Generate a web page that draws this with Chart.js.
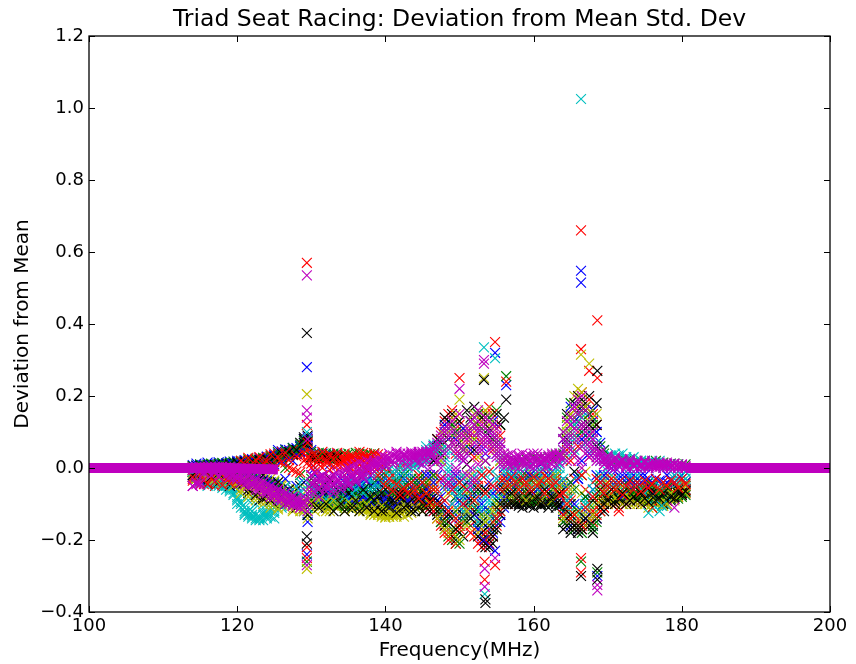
<!DOCTYPE html>
<html><head><meta charset="utf-8">
<script src="https://cdn.jsdelivr.net/npm/chart.js@4/dist/chart.umd.min.js"></script>
<style>html,body{margin:0;padding:0;background:#fff}</style>
</head><body>
<canvas id="c" width="856" height="664"></canvas>
<script>
const xTicks = [100,120,140,160,180,200];
const yTicks = [-0.4,-0.2,0.0,0.2,0.4,0.6,0.8,1.0,1.2];

const freq = [
114,114.5,115,115.5,116,116.5,117,117.5,118,118.5,
119,119.5,120,120.5,121,121.5,122,122.5,123,123.5,
124,124.5,125,125.5,126,126.5,127,127.5,128,128.5,
129,129.5,130,130.5,131,131.5,132,132.5,133,133.5,
134,134.5,135,135.5,136,136.5,137,137.5,138,138.5,
139,139.5,140,140.5,141,141.5,142,142.5,143,143.5,
144,144.5,145,145.5,146,146.5,147,147.5,148,148.5,
149,149.5,150,150.5,151,151.5,152,152.5,153,153.5,
154,154.5,155,155.5,156,156.5,157,157.5,158,158.5,
159,159.5,160,160.5,161,161.5,162,162.5,163,163.5,
164,164.5,165,165.5,166,166.5,167,167.5,168,168.5,
169,169.5,170,170.5,171,171.5,172,172.5,173,173.5,
174,174.5,175,175.5,176,176.5,177,177.5,178,178.5,
179,179.5,180,180.5];

const blue1 = [
0.008,0.006,0.009,0.007,0.010,0.008,0.011,0.009,0.012,0.010,
0.012,0.014,0.013,0.016,0.018,0.017,0.020,0.022,0.021,0.024,
0.026,0.028,0.034,0.040,0.046,0.044,0.050,0.048,0.055,0.060,
0.070,0.078,0.050,0.042,0.038,0.040,0.036,0.039,0.035,0.038,
-0.090,-0.095,-0.088,-0.098,-0.092,-0.085,-0.096,-0.090,-0.082,-0.075,
-0.07,-0.08,-0.095,-0.10,-0.105,-0.098,-0.09,-0.085,-0.08,-0.07,
-0.065,-0.06,-0.07,-0.055,-0.06,-0.08,-0.10,-0.12,-0.14,-0.16,
-0.04,-0.06,-0.03,-0.07,-0.05,-0.12,-0.15,-0.17,-0.19,-0.20,
-0.17,-0.14,-0.12,-0.09,-0.11,-0.05,-0.04,-0.06,-0.05,-0.04,
-0.03,-0.04,-0.03,-0.05,-0.04,-0.03,-0.05,-0.04,-0.06,-0.05,
-0.06,-0.08,0.12,0.14,0.15,0.16,0.11,0.09,0.13,0.10,
0.07,0.05,0.02,0.01,-0.01,-0.02,-0.03,-0.02,-0.04,-0.03,
-0.03,-0.04,-0.05,-0.04,-0.05,-0.06,-0.05,-0.04,-0.06,-0.05,
-0.05,-0.06,-0.05,-0.04];
const blue2 = [
-0.005,-0.008,-0.006,-0.010,-0.007,-0.009,-0.012,-0.010,-0.013,-0.011,
-0.015,-0.013,-0.018,-0.016,-0.020,-0.022,-0.025,-0.028,-0.030,-0.033,
-0.035,-0.040,-0.045,-0.05,-0.06,-0.065,-0.07,-0.075,-0.08,-0.085,
-0.12,-0.15,-0.09,-0.085,-0.09,-0.095,-0.10,-0.095,-0.10,-0.098,
-0.06,-0.055,-0.065,-0.06,-0.07,-0.075,-0.08,-0.085,-0.09,-0.095,
-0.10,-0.095,-0.105,-0.11,-0.10,-0.09,-0.085,-0.09,-0.08,-0.085,
-0.09,-0.095,-0.10,-0.09,-0.11,-0.12,-0.02,-0.03,-0.05,-0.04,
-0.06,-0.08,-0.10,-0.11,-0.09,-0.07,-0.05,-0.08,-0.12,-0.16,
-0.21,-0.18,-0.15,-0.13,-0.10,-0.07,-0.06,-0.07,-0.08,-0.06,
-0.07,-0.06,-0.08,-0.07,-0.06,-0.08,-0.07,-0.09,-0.08,-0.10,
-0.12,-0.14,-0.16,-0.15,-0.17,-0.13,-0.12,-0.15,-0.16,-0.14,
-0.10,-0.08,-0.07,-0.06,-0.07,-0.05,-0.06,-0.05,-0.07,-0.06,
-0.06,-0.07,-0.06,-0.05,-0.07,-0.06,-0.07,-0.08,-0.06,-0.07,
-0.06,-0.07,-0.05,-0.06];
const blue3 = [
-0.02,0.005,-0.035,-0.01,0.0,-0.04,-0.015,0.008,-0.03,-0.005,
-0.02,0.01,-0.05,-0.03,0.015,-0.06,-0.01,-0.08,0.0,-0.04,
0.03,-0.06,0.01,-0.09,0.04,-0.03,-0.1,0.02,-0.05,0.045,
-0.04,0.06,-0.08,0.0,-0.1,-0.02,-0.07,0.01,-0.05,-0.09,
-0.03,-0.07,0.0,-0.09,-0.05,-0.1,-0.02,-0.06,-0.08,-0.04,
-0.06,-0.01,-0.09,-0.04,-0.11,-0.07,-0.02,-0.1,-0.05,-0.08,
-0.03,-0.08,0.01,-0.06,-0.02,0.04,-0.09,0.07,-0.13,0.1,
-0.05,0.08,-0.14,0.02,-0.09,0.13,-0.03,-0.17,0.06,-0.12,
0.1,-0.07,0.04,-0.15,0.0,-0.06,-0.02,-0.08,-0.04,-0.07,
-0.02,-0.08,-0.04,0.0,-0.07,-0.03,-0.09,-0.01,-0.06,-0.04,
-0.1,0.06,-0.04,0.13,-0.03,0.02,0.09,-0.07,0.16,-0.02,
0.03,-0.06,-0.02,-0.08,0.0,-0.05,-0.07,-0.03,-0.06,-0.02,
-0.04,-0.07,-0.02,-0.06,-0.08,-0.03,-0.05,-0.07,-0.02,-0.06,
-0.05,-0.03,-0.06,-0.04];
const blue4 = [
0.0,0.012,0.003,0.0,0.015,0.002,0.0,0.016,0.004,0.0,
0.018,0.004,0.02,0.0,0.022,0.006,0.025,0.002,0.028,0.01,
0.032,0.015,0.036,0.05,0.02,0.052,0.03,0.056,0.04,0.062,
0.08,0.085,-0.02,-0.06,-0.03,-0.085,-0.045,-0.07,-0.02,-0.06,
-0.07,-0.04,-0.085,-0.03,-0.1,-0.045,-0.08,-0.035,-0.095,-0.06,
-0.04,-0.09,-0.03,-0.075,-0.05,-0.1,-0.06,-0.03,-0.09,-0.05,
-0.1,-0.04,-0.085,-0.02,-0.07,-0.04,0.06,-0.08,0.12,-0.11,
0.09,-0.02,-0.09,0.11,-0.04,0.05,-0.13,0.1,-0.1,0.04,
-0.04,0.13,-0.06,0.07,-0.08,-0.03,-0.06,-0.02,-0.07,-0.03,
-0.06,-0.02,-0.07,-0.03,-0.08,-0.05,-0.02,-0.07,-0.04,-0.08,
0.08,-0.05,0.17,-0.1,-0.03,0.08,-0.14,0.04,-0.06,0.1,
-0.04,-0.02,-0.06,0.0,-0.05,-0.03,-0.08,-0.04,-0.02,-0.05,
-0.05,-0.02,-0.07,-0.03,-0.04,-0.075,-0.035,-0.05,-0.04,-0.03,
-0.04,-0.07,-0.03,-0.05];
const green1 = [
0.005,0.007,0.006,0.009,0.008,0.010,0.009,0.012,0.011,0.013,
0.014,0.013,0.016,0.015,0.017,0.019,0.018,0.021,0.020,0.023,
0.025,0.027,0.030,0.033,0.036,0.038,0.042,0.045,0.050,0.058,
0.065,0.072,0.045,0.040,0.042,0.038,0.041,0.037,0.040,0.036,
0.038,0.035,0.040,0.037,0.042,0.039,0.036,0.040,0.038,0.041,
-0.05,-0.07,-0.09,-0.08,-0.10,-0.09,-0.08,-0.07,-0.09,-0.06,
-0.07,-0.05,-0.08,-0.06,-0.09,-0.05,0.02,0.06,0.10,0.12,
-0.17,-0.19,-0.12,-0.08,-0.10,-0.06,0.08,0.12,0.15,0.14,
0.10,0.08,0.16,0.12,0.03,0.02,0.01,0.02,0.015,0.02,
0.025,0.02,0.03,0.025,0.03,0.02,0.03,0.025,0.035,0.04,
0.10,0.14,0.18,0.16,0.13,0.15,0.12,0.10,0.14,0.12,
0.06,0.04,0.03,0.02,0.025,0.02,0.015,0.02,0.025,0.015,
0.02,0.015,0.02,0.01,0.015,0.02,0.01,0.015,0.01,0.012,
0.012,0.01,0.008,0.01];
const green2 = [
-0.01,-0.012,-0.015,-0.013,-0.016,-0.018,-0.014,-0.017,-0.02,-0.018,
-0.02,-0.022,-0.025,-0.023,-0.028,-0.03,-0.032,-0.035,-0.04,-0.045,
-0.05,-0.055,-0.06,-0.07,-0.075,-0.08,-0.085,-0.09,-0.095,-0.10,
-0.11,-0.13,-0.10,-0.095,-0.09,-0.10,-0.095,-0.105,-0.10,-0.11,
-0.10,-0.105,-0.11,-0.10,-0.095,-0.105,-0.10,-0.09,-0.095,-0.10,
-0.09,-0.10,-0.11,-0.105,-0.09,-0.10,-0.11,-0.095,-0.10,-0.09,
-0.095,-0.10,-0.105,-0.09,-0.10,-0.11,-0.12,-0.15,-0.17,-0.19,
-0.20,-0.21,-0.18,-0.14,-0.12,-0.10,-0.13,-0.16,-0.18,-0.20,
-0.19,-0.17,-0.15,-0.12,-0.10,-0.08,-0.09,-0.10,-0.09,-0.085,
-0.09,-0.095,-0.085,-0.09,-0.10,-0.09,-0.095,-0.085,-0.09,-0.10,
-0.11,-0.13,-0.15,-0.17,-0.16,-0.18,-0.14,-0.16,-0.17,-0.15,
-0.12,-0.09,-0.08,-0.07,-0.08,-0.075,-0.08,-0.07,-0.075,-0.08,
-0.075,-0.08,-0.07,-0.075,-0.08,-0.07,-0.075,-0.08,-0.07,-0.075,
-0.08,-0.07,-0.075,-0.065];
const green3 = [
-0.01,-0.03,0.0,-0.02,-0.04,-0.005,-0.025,0.005,-0.035,-0.015,
0.01,-0.03,-0.015,0.015,-0.045,-0.02,0.02,-0.05,-0.01,0.018,
-0.07,0.02,-0.04,0.035,-0.08,0.0,-0.1,0.04,-0.06,-0.02,
0.05,-0.11,-0.03,-0.08,0.03,-0.06,-0.1,-0.04,0.02,-0.07,
-0.06,-0.02,-0.09,-0.04,-0.08,0.0,-0.1,-0.05,-0.07,-0.03,
-0.08,-0.04,-0.1,-0.06,-0.12,-0.03,-0.09,-0.07,-0.05,-0.11,
-0.04,-0.09,-0.02,-0.07,0.03,-0.1,0.05,-0.12,0.09,-0.05,
0.12,-0.08,0.04,-0.15,0.09,-0.03,-0.11,0.15,-0.06,0.02,
-0.12,0.06,-0.09,0.02,-0.05,-0.08,-0.03,-0.09,-0.06,-0.02,
-0.05,-0.09,-0.03,-0.07,-0.01,-0.08,-0.04,-0.1,-0.02,-0.06,
0.04,-0.12,0.1,-0.06,0.15,-0.02,0.07,-0.1,0.12,-0.08,
-0.03,0.05,-0.07,-0.04,-0.09,-0.05,-0.08,-0.06,-0.09,-0.04,
-0.07,-0.05,-0.08,-0.04,-0.06,-0.09,-0.05,-0.07,-0.08,-0.06,
-0.07,-0.05,-0.08,-0.06];
const green4 = [
0.004,0.0,0.01,0.003,0.0,0.012,0.002,0.0,0.014,0.005,
0.0,0.018,0.006,0.02,0.002,0.024,0.008,0.026,0.004,0.028,
0.01,0.034,0.016,0.044,0.028,0.05,0.036,0.055,0.046,0.065,
0.075,0.08,-0.04,-0.1,-0.06,-0.09,-0.05,-0.1,-0.07,-0.105,
-0.08,-0.11,-0.06,-0.1,-0.07,-0.105,-0.065,-0.1,-0.085,-0.06,
-0.03,-0.06,-0.02,-0.05,-0.07,-0.04,-0.06,-0.02,-0.05,-0.03,
-0.05,-0.03,-0.06,-0.04,-0.08,-0.02,-0.1,0.08,-0.15,0.06,
-0.13,0.1,-0.07,0.05,-0.15,0.13,-0.06,-0.12,0.11,-0.15,
0.14,-0.13,0.07,-0.08,-0.07,-0.05,-0.08,-0.06,-0.035,-0.07,
-0.07,-0.03,-0.09,-0.05,-0.08,-0.04,-0.07,-0.03,-0.08,-0.05,
-0.15,0.07,-0.04,0.12,-0.12,0.1,-0.08,0.15,-0.16,0.05,
-0.07,-0.1,-0.05,-0.09,-0.06,-0.085,-0.05,-0.08,-0.065,-0.07,
-0.085,-0.06,-0.075,-0.09,-0.05,-0.08,-0.065,-0.085,-0.055,-0.08,
-0.07,-0.085,-0.06,-0.075];
const red1 = [
-0.02,-0.025,-0.03,-0.022,-0.028,-0.032,-0.026,-0.03,-0.035,-0.028,
-0.03,-0.025,0.005,0.008,0.010,0.012,0.011,0.014,0.016,0.018,
0.020,0.022,0.025,0.027,0.030,0.032,0.034,0.036,0.040,0.045,
0.050,0.055,0.035,0.032,0.030,0.033,0.031,0.034,0.030,0.032,
0.030,0.028,0.032,0.030,0.027,0.031,0.029,0.033,0.030,0.035,
0.038,0.030,0.02,0.0,-0.02,-0.04,-0.03,-0.05,-0.04,-0.06,
-0.05,-0.04,-0.06,-0.03,-0.05,-0.02,0.08,0.10,0.13,0.15,
0.16,0.14,0.12,0.10,0.08,0.06,0.09,0.11,0.13,0.15,
0.17,0.15,0.12,0.09,-0.02,-0.03,-0.04,-0.05,-0.04,-0.06,
-0.05,-0.04,-0.06,-0.05,-0.07,-0.06,-0.05,-0.07,-0.06,-0.05,
-0.04,-0.06,-0.08,0.16,0.19,0.21,0.17,0.19,0.15,0.12,
-0.09,-0.10,-0.09,-0.08,-0.07,-0.09,-0.08,-0.07,-0.08,-0.06,
-0.05,-0.07,-0.06,-0.05,-0.06,-0.07,-0.05,-0.06,-0.05,-0.06,
-0.05,-0.06,-0.04,-0.05];
const red2 = [
-0.035,-0.04,-0.03,-0.045,-0.038,-0.042,-0.036,-0.044,-0.04,-0.046,
-0.04,-0.048,-0.045,0.015,0.018,0.020,0.022,0.025,0.024,0.027,
0.028,0.030,0.032,0.031,0.035,0.038,0.04,0.042,0.038,0.04,
0.02,0.015,0.025,0.028,0.024,0.027,0.025,0.028,0.026,0.024,
0.022,0.025,0.02,0.024,0.021,0.025,0.02,0.023,0.018,0.02,
-0.03,-0.05,-0.07,-0.06,-0.08,-0.07,-0.09,-0.08,-0.1,-0.09,
-0.08,-0.1,-0.09,-0.11,-0.1,-0.12,-0.14,-0.16,-0.18,-0.2,
-0.19,-0.21,-0.17,-0.15,-0.13,-0.16,-0.19,-0.21,-0.22,-0.20,
-0.21,-0.19,-0.16,-0.12,-0.09,-0.07,-0.06,-0.08,-0.07,-0.09,
-0.08,-0.07,-0.09,-0.08,-0.07,-0.06,-0.08,-0.07,-0.08,-0.09,
-0.10,-0.12,-0.14,-0.16,-0.15,-0.17,-0.16,-0.14,-0.15,-0.13,
-0.12,-0.11,-0.10,-0.09,-0.10,-0.11,-0.09,-0.08,-0.09,-0.08,
-0.08,-0.09,-0.07,-0.08,-0.09,-0.07,-0.08,-0.07,-0.09,-0.08,
-0.07,-0.08,-0.06,-0.07];
const red3 = [
-0.03,-0.015,-0.045,-0.025,-0.04,-0.02,-0.05,-0.035,-0.015,-0.04,
-0.025,-0.045,0.0,0.012,-0.005,0.02,0.008,0.025,0.015,0.005,
0.03,0.01,0.04,0.02,0.045,0.015,0.0,0.05,-0.01,0.04,
0.06,0.03,0.0,0.04,0.01,0.045,0.02,0.038,0.005,0.042,
0.015,0.04,0.005,0.035,0.01,0.045,0.0,0.03,0.012,0.04,
0.01,-0.04,0.03,-0.07,-0.02,-0.09,0.0,-0.06,-0.03,-0.1,
-0.07,-0.02,-0.09,-0.05,-0.11,0.02,-0.06,0.06,-0.14,-0.04,
-0.1,0.04,-0.16,-0.02,0.1,-0.12,0.03,-0.03,0.07,-0.18,
-0.05,0.05,-0.12,-0.03,-0.07,-0.1,-0.04,-0.08,-0.03,-0.06,
-0.07,-0.03,-0.08,-0.04,-0.09,-0.02,-0.06,-0.08,-0.03,-0.07,
-0.13,0.05,-0.09,-0.03,0.1,-0.16,-0.06,0.03,-0.12,-0.05,
-0.06,-0.11,-0.04,-0.1,-0.06,-0.12,-0.07,-0.1,-0.05,-0.09,
-0.07,-0.1,-0.05,-0.08,-0.11,-0.06,-0.09,-0.07,-0.1,-0.06,
-0.08,-0.05,-0.07,-0.06];
const red4 = [
-0.025,-0.04,-0.018,-0.033,-0.045,-0.028,-0.038,-0.022,-0.048,-0.03,
-0.042,-0.02,-0.035,0.02,0.01,0.028,0.004,0.022,0.03,0.012,
0.018,0.038,0.006,0.03,0.015,0.042,0.022,-0.005,0.032,-0.012,
0.04,0.07,0.012,-0.01,0.02,0.0,0.015,-0.005,0.025,0.008,
0.004,0.02,-0.008,0.015,-0.012,0.01,0.042,-0.005,0.025,0.0,
-0.02,0.005,-0.05,-0.03,-0.065,-0.045,-0.075,-0.055,-0.07,-0.04,
-0.06,-0.085,-0.04,-0.07,-0.095,-0.06,-0.1,-0.03,-0.09,-0.12,
-0.06,-0.14,-0.04,-0.1,-0.06,-0.18,-0.09,-0.05,-0.02,-0.07,
-0.01,-0.05,-0.14,-0.06,-0.03,-0.05,-0.025,-0.04,-0.06,-0.03,
-0.04,-0.06,-0.025,-0.05,-0.035,-0.07,-0.03,-0.05,-0.04,-0.075,
-0.07,-0.1,0.02,-0.13,0.06,-0.02,-0.11,0.09,-0.08,-0.03,
-0.04,-0.07,-0.05,-0.03,-0.06,-0.04,-0.075,-0.05,-0.035,-0.06,
-0.04,-0.065,-0.035,-0.055,-0.045,-0.03,-0.06,-0.04,-0.05,-0.035,
-0.04,-0.055,-0.03,-0.045];
const cyan1 = [
-0.01,-0.012,-0.015,-0.018,-0.02,-0.025,-0.03,-0.035,-0.04,-0.045,
-0.05,-0.06,-0.08,-0.10,-0.12,-0.13,-0.14,-0.145,-0.14,-0.145,
-0.14,-0.135,-0.12,-0.10,-0.09,-0.085,-0.08,-0.075,-0.08,-0.085,
-0.10,-0.12,-0.07,-0.065,-0.075,-0.08,-0.07,-0.075,-0.065,-0.07,
-0.06,-0.065,-0.055,-0.06,-0.05,-0.055,-0.045,-0.05,-0.04,-0.045,
-0.04,-0.035,-0.045,-0.04,-0.03,-0.035,-0.02,-0.03,-0.01,0.0,
0.01,0.02,0.03,0.04,0.05,0.055,0.06,0.04,0.02,-0.01,
-0.03,-0.05,-0.08,-0.1,-0.12,-0.09,-0.06,-0.04,-0.08,-0.11,
-0.13,-0.10,-0.09,-0.06,-0.04,-0.03,-0.02,-0.03,-0.02,-0.01,
-0.02,-0.01,-0.03,-0.02,-0.01,-0.02,-0.03,-0.01,0.0,0.01,
0.02,0.04,0.06,0.08,0.09,0.10,0.07,0.05,0.08,0.06,
0.04,0.03,0.02,0.03,0.04,0.03,0.02,0.015,0.02,0.01,
-0.03,-0.05,-0.06,-0.09,-0.11,-0.07,-0.10,-0.08,-0.06,-0.05,
-0.04,-0.03,-0.02,-0.01];
const cyan2 = [
-0.02,-0.025,-0.03,-0.028,-0.035,-0.04,-0.045,-0.05,-0.055,-0.06,
-0.065,-0.075,-0.09,-0.11,-0.125,-0.135,-0.13,-0.14,-0.135,-0.13,
-0.125,-0.12,-0.11,-0.095,-0.085,-0.09,-0.095,-0.1,-0.095,-0.1,
-0.11,-0.13,-0.09,-0.085,-0.08,-0.09,-0.085,-0.08,-0.085,-0.09,
-0.04,-0.03,-0.035,-0.025,-0.03,-0.02,-0.025,-0.015,-0.02,-0.01,
0.0,-0.01,0.005,-0.005,0.01,0.0,0.005,-0.01,0.0,0.01,
0.02,0.015,0.03,0.025,0.04,0.05,0.065,0.05,0.03,0.0,
-0.02,-0.04,-0.06,-0.03,-0.05,-0.07,-0.09,-0.11,-0.13,-0.14,
-0.12,-0.11,-0.08,-0.05,-0.03,-0.02,-0.04,-0.03,-0.05,-0.04,
-0.03,-0.04,-0.02,-0.03,-0.04,-0.03,-0.02,-0.04,-0.03,-0.02,
-0.03,-0.05,-0.08,-0.11,-0.13,-0.12,-0.10,-0.09,-0.11,-0.08,
-0.05,-0.03,-0.01,0.0,0.02,0.035,0.04,0.025,0.02,0.03,
0.01,0.02,0.005,0.015,0.01,-0.1,-0.12,-0.09,-0.105,-0.07,
-0.05,-0.03,-0.02,-0.01];
const cyan3 = [
-0.025,-0.005,-0.04,-0.02,-0.05,-0.01,-0.035,-0.045,-0.015,-0.05,
-0.06,-0.04,-0.1,-0.07,-0.13,-0.09,-0.12,-0.1,-0.145,-0.11,
-0.13,-0.1,-0.14,-0.07,-0.11,-0.05,-0.09,-0.06,-0.1,-0.04,
-0.08,0.08,-0.05,-0.09,-0.06,-0.1,-0.04,-0.08,-0.06,-0.1,
-0.07,-0.03,-0.09,-0.05,-0.08,-0.02,-0.06,-0.1,-0.04,-0.07,
-0.02,-0.06,0.01,-0.04,-0.08,-0.01,-0.05,0.02,-0.07,-0.03,
0.0,0.03,-0.04,0.05,0.02,0.06,0.03,0.07,-0.06,0.05,
-0.07,0.03,-0.1,-0.02,-0.13,0.05,-0.05,-0.15,-0.01,-0.08,
-0.09,-0.01,-0.11,0.03,-0.07,-0.01,-0.05,0.0,-0.06,-0.03,
0.0,-0.05,0.01,-0.03,-0.06,0.01,-0.04,-0.02,-0.07,0.0,
-0.06,0.1,-0.12,0.05,-0.02,0.14,-0.09,0.11,-0.04,0.07,
0.02,-0.04,0.03,-0.06,0.02,-0.08,0.01,-0.05,0.025,-0.07,
0.015,-0.06,0.02,-0.08,0.01,-0.04,0.02,-0.07,0.005,-0.05,
-0.03,0.01,-0.04,0.0];
const cyan4 = [
-0.01,-0.02,-0.005,-0.03,-0.015,-0.04,-0.025,-0.03,-0.05,-0.035,
-0.055,-0.07,-0.085,-0.095,-0.11,-0.12,-0.135,-0.13,-0.14,-0.125,
-0.135,-0.11,-0.125,-0.09,-0.105,-0.07,-0.1,-0.075,-0.09,-0.065,
-0.06,-0.11,-0.08,-0.06,-0.09,-0.06,-0.085,-0.055,-0.09,-0.06,
-0.05,-0.08,-0.04,-0.07,-0.06,-0.04,-0.07,-0.03,-0.06,-0.02,
-0.05,0.0,-0.06,-0.02,-0.05,-0.02,-0.04,-0.01,-0.03,0.02,
0.015,0.04,0.025,0.06,0.035,0.065,0.045,0.02,0.05,-0.03,
-0.1,-0.03,-0.07,-0.12,-0.04,-0.1,-0.02,-0.01,-0.11,-0.02,
-0.07,-0.13,-0.03,-0.08,-0.01,-0.05,-0.02,-0.04,-0.01,-0.05,
-0.04,0.005,-0.05,-0.01,-0.04,0.005,-0.05,-0.03,0.0,-0.04,
0.05,-0.09,0.08,0.12,-0.02,0.06,-0.1,0.09,-0.06,0.03,
-0.02,0.02,-0.06,0.035,-0.03,0.02,-0.06,0.03,-0.02,0.015,
-0.02,0.02,-0.07,0.0,-0.1,0.015,-0.05,0.0,-0.08,0.01,
-0.02,-0.04,0.0,-0.03];
const yellow1 = [
0.0,-0.005,0.002,-0.004,0.0,-0.006,0.001,-0.003,0.0,-0.005,
-0.01,-0.008,-0.012,-0.01,-0.015,-0.013,-0.018,-0.016,-0.02,-0.022,
-0.025,-0.03,-0.035,-0.04,-0.045,-0.05,-0.06,-0.07,-0.075,-0.08,
-0.09,-0.11,-0.08,-0.075,-0.085,-0.08,-0.09,-0.085,-0.095,-0.09,
-0.095,-0.1,-0.09,-0.105,-0.1,-0.11,-0.105,-0.11,-0.115,-0.12,
-0.12,-0.125,-0.13,-0.135,-0.13,-0.135,-0.125,-0.12,-0.11,-0.1,
-0.09,-0.1,-0.095,-0.085,-0.09,-0.1,-0.12,-0.14,-0.16,-0.18,
-0.2,-0.19,-0.15,-0.12,-0.10,-0.08,-0.11,-0.14,-0.16,-0.17,
-0.16,-0.13,-0.10,-0.08,-0.06,-0.05,-0.06,-0.05,-0.07,-0.06,
-0.06,-0.07,-0.05,-0.06,-0.07,-0.05,-0.06,-0.07,-0.05,-0.06,
0.08,0.12,0.15,0.2,0.22,0.18,0.16,0.13,0.1,0.07,
-0.06,-0.07,-0.06,-0.08,-0.07,-0.09,-0.08,-0.07,-0.09,-0.08,
-0.09,-0.08,-0.1,-0.085,-0.095,-0.1,-0.09,-0.105,-0.09,-0.08,
-0.07,-0.06,-0.05,-0.04];
const yellow2 = [
-0.015,-0.018,-0.02,-0.017,-0.022,-0.02,-0.025,-0.022,-0.026,-0.024,
-0.028,-0.03,-0.033,-0.036,-0.04,-0.045,-0.05,-0.055,-0.06,-0.065,
-0.07,-0.075,-0.08,-0.085,-0.09,-0.095,-0.1,-0.105,-0.1,-0.11,
-0.12,-0.14,-0.1,-0.095,-0.1,-0.105,-0.1,-0.11,-0.105,-0.1,
-0.08,-0.085,-0.09,-0.095,-0.1,-0.11,-0.115,-0.12,-0.125,-0.13,
-0.13,-0.135,-0.138,-0.135,-0.13,-0.125,-0.12,-0.11,-0.1,-0.09,
-0.08,-0.07,-0.06,-0.05,-0.04,-0.03,0.04,0.07,0.10,0.12,
0.13,0.10,0.08,0.06,0.05,0.07,0.09,0.12,0.14,0.16,
0.15,0.12,0.09,0.06,0.02,0.01,0.0,-0.01,0.0,-0.02,
-0.03,-0.02,-0.04,-0.03,-0.02,-0.04,-0.03,-0.02,-0.03,-0.04,
-0.05,-0.08,-0.1,-0.12,-0.14,-0.15,-0.13,-0.11,-0.12,-0.1,
-0.05,-0.04,-0.03,-0.05,-0.04,-0.06,-0.05,-0.04,-0.06,-0.05,
-0.06,-0.08,-0.1,-0.09,-0.11,-0.1,-0.09,-0.08,-0.07,-0.08,
-0.06,-0.07,-0.05,-0.04];
const yellow3 = [
-0.01,-0.03,-0.005,-0.025,-0.015,-0.035,-0.01,-0.02,-0.04,-0.012,
-0.02,-0.04,-0.03,-0.06,-0.035,-0.07,-0.05,-0.08,-0.045,-0.09,
-0.06,-0.1,-0.07,-0.11,-0.05,-0.09,-0.08,-0.12,-0.06,-0.1,
-0.09,-0.06,-0.11,-0.07,-0.1,-0.05,-0.12,-0.08,-0.06,-0.1,
-0.07,-0.11,-0.06,-0.1,-0.08,-0.12,-0.07,-0.09,-0.11,-0.08,
-0.1,-0.13,-0.08,-0.12,-0.135,-0.09,-0.125,-0.1,-0.13,-0.07,
-0.06,-0.1,-0.05,-0.08,-0.03,-0.11,0.05,-0.13,0.09,-0.07,
0.07,-0.12,0.1,-0.06,-0.16,0.11,-0.09,0.03,-0.13,0.12,
-0.14,0.07,-0.1,0.02,-0.08,-0.04,-0.07,-0.03,-0.06,-0.08,
-0.04,-0.07,-0.02,-0.08,-0.05,-0.03,-0.08,-0.05,-0.02,-0.07,
0.03,-0.1,0.14,-0.13,0.08,-0.07,0.17,-0.15,0.05,-0.09,
-0.08,-0.03,-0.09,-0.05,-0.1,-0.04,-0.08,-0.06,-0.1,-0.05,
-0.08,-0.06,-0.1,-0.07,-0.05,-0.09,-0.07,-0.1,-0.06,-0.08,
-0.06,-0.08,-0.05,-0.07];
const yellow4 = [
-0.005,-0.02,-0.01,-0.03,-0.02,-0.015,-0.03,-0.01,-0.025,-0.02,
-0.03,-0.05,-0.04,-0.07,-0.055,-0.08,-0.065,-0.09,-0.07,-0.1,
-0.09,-0.11,-0.085,-0.115,-0.095,-0.11,-0.09,-0.115,-0.085,-0.12,
-0.115,-0.09,-0.095,-0.12,-0.09,-0.115,-0.095,-0.12,-0.09,-0.11,
-0.1,-0.12,-0.095,-0.115,-0.09,-0.1,-0.12,-0.1,-0.13,-0.11,
-0.125,-0.105,-0.135,-0.11,-0.12,-0.13,-0.11,-0.135,-0.115,-0.125,
-0.11,-0.09,-0.12,-0.07,-0.1,-0.06,-0.14,0.02,-0.17,0.1,
-0.18,0.15,-0.2,0.09,-0.12,-0.02,0.15,-0.18,0.08,-0.15,
0.12,-0.12,0.05,-0.1,-0.09,-0.06,-0.09,-0.07,-0.08,-0.05,
-0.09,-0.05,-0.08,-0.04,-0.09,-0.06,-0.04,-0.09,-0.07,-0.05,
-0.14,0.1,-0.06,0.16,-0.16,0.21,-0.01,0.11,-0.13,0.15,
-0.09,-0.06,-0.1,-0.07,-0.085,-0.06,-0.1,-0.075,-0.085,-0.1,
-0.1,-0.07,-0.09,-0.11,-0.08,-0.095,-0.06,-0.09,-0.1,-0.07,
-0.09,-0.07,-0.06,-0.05];
const black1 = [
-0.01,-0.008,-0.012,-0.015,-0.011,-0.014,-0.018,-0.015,-0.019,-0.016,
-0.02,-0.018,-0.022,-0.025,-0.023,-0.028,-0.03,-0.033,-0.035,-0.038,
-0.04,-0.045,-0.05,-0.055,-0.06,-0.065,-0.07,-0.06,0.05,0.07,
0.085,0.09,-0.06,-0.07,-0.065,-0.075,-0.07,-0.08,-0.075,-0.08,
-0.085,-0.08,-0.09,-0.085,-0.095,-0.09,-0.1,-0.095,-0.1,-0.105,
-0.1,-0.11,-0.105,-0.1,-0.11,-0.105,-0.1,-0.095,-0.09,-0.1,
-0.11,-0.105,-0.1,-0.095,-0.1,-0.11,-0.13,-0.15,0.11,0.13,
0.12,0.09,0.07,0.05,0.1,0.14,0.17,0.15,-0.2,-0.22,
-0.2,-0.17,-0.14,0.12,0.14,-0.08,-0.09,-0.1,-0.09,-0.1,
-0.095,-0.1,-0.09,-0.095,-0.1,-0.09,-0.1,-0.095,-0.09,-0.1,
-0.12,-0.16,-0.18,0.18,0.2,0.19,0.17,0.2,0.16,0.12,
-0.1,-0.09,-0.08,-0.07,-0.08,-0.075,-0.085,-0.08,-0.07,-0.075,
-0.07,-0.08,-0.075,-0.07,-0.065,-0.08,-0.07,-0.09,-0.08,-0.075,
-0.07,-0.065,-0.06,-0.05];
const black2 = [
0.004,0.006,0.005,0.008,0.006,0.009,0.007,0.01,0.008,0.011,
0.01,0.012,0.011,0.014,0.013,0.016,0.015,0.018,0.017,0.02,
0.022,0.024,0.026,0.028,0.03,0.032,0.035,0.038,0.042,0.048,
0.06,0.065,0.03,0.028,0.03,0.027,0.029,0.026,0.028,0.03,
-0.05,-0.055,-0.06,-0.065,-0.07,-0.06,-0.075,-0.07,-0.08,-0.075,
-0.07,-0.08,-0.075,-0.085,-0.08,-0.09,-0.085,-0.08,-0.075,-0.07,
-0.06,-0.07,-0.065,-0.075,-0.07,-0.08,-0.09,-0.1,-0.12,-0.15,
-0.18,-0.2,-0.16,-0.13,-0.11,-0.09,-0.12,-0.15,-0.18,-0.21,
-0.22,-0.19,-0.17,-0.13,-0.1,-0.09,-0.095,-0.1,-0.105,-0.1,
-0.1,-0.105,-0.095,-0.1,-0.105,-0.1,-0.095,-0.1,-0.11,-0.105,
-0.13,-0.15,-0.17,-0.16,-0.18,-0.17,-0.15,-0.16,-0.18,-0.14,
-0.11,-0.09,-0.085,-0.08,-0.09,-0.085,-0.08,-0.09,-0.085,-0.08,
-0.085,-0.09,-0.08,-0.085,-0.09,-0.08,-0.085,-0.09,-0.08,-0.085,
-0.08,-0.075,-0.07,-0.06];
const black3 = [
-0.02,0.0,-0.03,-0.01,-0.045,-0.005,-0.025,-0.04,0.005,-0.03,
-0.05,-0.01,-0.06,0.005,-0.04,-0.07,0.01,-0.05,-0.09,-0.02,
-0.08,0.02,-0.1,-0.04,0.03,-0.09,-0.06,0.04,-0.11,-0.05,
0.07,-0.13,-0.09,-0.05,-0.1,-0.07,-0.11,-0.06,-0.09,-0.08,
-0.1,-0.06,-0.11,-0.08,-0.04,-0.1,-0.07,-0.11,-0.05,-0.09,
-0.11,-0.07,-0.12,-0.09,-0.06,-0.11,-0.08,-0.12,-0.07,-0.1,
-0.08,-0.11,-0.06,-0.1,-0.07,0.02,-0.12,0.04,-0.16,0.08,
-0.13,0.1,-0.07,-0.19,0.01,-0.1,0.12,-0.06,-0.15,0.09,
-0.16,0.08,-0.11,-0.04,-0.09,-0.06,-0.1,-0.07,-0.1,-0.05,
-0.08,-0.1,-0.06,-0.09,-0.05,-0.1,-0.07,-0.09,-0.06,-0.1,
-0.15,0.08,-0.1,0.04,-0.17,0.12,-0.08,0.15,-0.13,0.06,
-0.08,-0.12,-0.07,-0.1,-0.09,-0.07,-0.1,-0.08,-0.06,-0.09,
-0.08,-0.1,-0.07,-0.09,-0.06,-0.09,-0.08,-0.1,-0.07,-0.09,
-0.08,-0.06,-0.07,-0.05];
const black4 = [
0.0,-0.02,0.006,-0.01,0.0,-0.025,0.008,-0.015,0.0,-0.02,
0.01,-0.03,0.015,-0.04,0.018,-0.06,0.02,-0.075,0.022,-0.085,
0.025,-0.09,0.03,-0.07,0.04,-0.1,0.045,-0.085,0.05,-0.1,
0.08,0.075,-0.1,-0.04,-0.11,-0.06,-0.1,-0.03,-0.12,-0.06,
-0.1,-0.12,-0.07,-0.11,-0.09,-0.12,-0.06,-0.11,-0.08,-0.12,
-0.08,-0.12,-0.06,-0.11,-0.09,-0.125,-0.07,-0.11,-0.1,-0.12,
-0.12,-0.09,-0.12,-0.08,-0.12,-0.09,0.08,-0.1,0.14,-0.13,
0.15,-0.17,0.13,-0.05,0.16,-0.14,0.05,-0.19,0.14,-0.06,
0.11,-0.21,0.15,-0.1,-0.06,-0.1,-0.07,-0.1,-0.08,-0.11,
-0.1,-0.07,-0.11,-0.08,-0.1,-0.06,-0.11,-0.08,-0.1,-0.07,
-0.17,0.15,-0.13,-0.01,-0.16,0.17,-0.14,0.12,-0.09,0.18,
-0.06,-0.1,-0.09,-0.06,-0.1,-0.085,-0.07,-0.1,-0.09,-0.08,
-0.09,-0.07,-0.085,-0.095,-0.07,-0.09,-0.085,-0.07,-0.09,-0.08,
-0.085,-0.07,-0.075,-0.065];
const magenta1 = [
-0.05,-0.045,-0.04,-0.01,-0.005,0.0,-0.008,-0.004,-0.01,-0.006,
-0.012,-0.02,-0.025,-0.03,-0.035,-0.04,-0.045,-0.05,-0.055,-0.06,
-0.065,-0.07,-0.075,-0.08,-0.085,-0.09,-0.095,-0.1,-0.105,-0.11,
-0.1,-0.09,-0.06,-0.05,-0.055,-0.045,-0.05,-0.04,-0.045,-0.035,
-0.04,-0.03,-0.035,-0.025,-0.03,-0.02,-0.015,-0.01,0.0,0.005,
0.01,0.015,0.02,0.025,0.02,0.03,0.025,0.035,0.03,0.04,
0.035,0.04,0.03,0.045,0.04,0.05,0.06,0.08,0.1,0.09,
0.07,0.05,0.03,0.06,0.08,0.1,0.12,0.1,0.08,0.06,
0.05,0.07,0.09,0.06,0.03,0.02,0.025,0.02,0.03,0.025,
0.03,0.02,0.025,0.03,0.02,0.025,0.03,0.035,0.03,0.04,
0.05,0.07,0.09,0.11,0.08,0.06,0.04,0.07,0.05,0.04,
0.03,0.025,0.02,0.015,0.02,0.015,0.02,0.01,0.015,0.01,
0.012,0.01,0.015,0.008,0.012,0.01,0.008,0.012,0.01,0.01,
-0.11,0.01,0.006,0.005];
const magenta2 = [
0.002,-0.002,0.003,0.0,0.004,-0.001,0.003,0.001,0.004,0.002,
0.003,0.0,-0.005,-0.01,-0.015,-0.02,-0.025,-0.03,-0.035,-0.04,
-0.045,-0.05,-0.055,-0.06,-0.065,-0.07,-0.075,-0.08,-0.085,-0.09,
-0.08,-0.07,-0.02,-0.015,-0.025,-0.02,-0.03,-0.025,-0.02,-0.015,
-0.01,-0.005,0.0,0.005,0.01,0.015,0.01,0.02,0.015,0.02,
0.025,0.02,0.03,0.025,0.035,0.03,0.04,0.035,0.04,0.03,
0.04,0.035,0.045,0.04,0.05,0.04,0.02,0.0,-0.03,-0.05,
-0.03,0.0,0.04,0.02,-0.02,-0.05,-0.03,0.01,0.05,0.08,
0.1,0.06,0.03,0.01,0.02,0.01,0.02,0.015,0.02,0.01,
0.015,0.02,0.01,0.02,0.015,0.025,0.02,0.03,0.025,0.03,
0.03,0.06,0.14,0.17,0.19,0.2,0.12,0.09,0.06,0.03,
0.02,0.01,0.005,0.01,0.0,0.005,0.01,0.005,0.0,0.005,
0.0,0.005,0.002,0.0,0.004,0.0,0.003,0.0,0.002,0.0,
0.002,0.0,0.001,0.0];
const magenta3 = [
-0.005,0.003,-0.01,0.0,-0.006,0.004,-0.012,0.002,-0.008,0.0,
-0.015,0.0,-0.03,-0.01,-0.045,-0.02,-0.05,-0.035,-0.06,-0.04,
-0.07,-0.05,-0.08,-0.06,-0.09,-0.07,-0.1,-0.08,-0.095,-0.1,
-0.11,0.08,-0.07,-0.04,-0.08,-0.03,-0.065,-0.05,-0.07,-0.04,
-0.06,-0.03,-0.05,-0.02,-0.04,-0.01,-0.03,0.0,-0.02,0.01,
0.0,0.02,0.005,0.03,0.01,0.04,0.015,0.035,0.005,0.045,
0.02,0.045,0.01,0.03,0.0,0.06,0.02,0.09,0.04,0.12,
0.1,-0.01,0.09,0.03,0.11,0.0,0.14,0.05,0.12,0.02,
0.08,0.12,0.04,0.07,0.01,0.035,0.005,0.03,0.0,0.04,
0.01,0.035,0.0,0.04,0.015,0.03,0.005,0.04,0.01,0.035,
0.08,0.02,0.12,0.04,0.15,0.0,0.1,0.03,0.08,0.02,
0.04,0.01,0.03,0.0,0.025,0.005,0.02,0.0,0.02,0.005,
0.015,0.0,0.02,0.005,0.01,0.0,0.015,0.005,0.01,0.0,
0.01,0.0,0.008,0.002];
const magenta4 = [
-0.05,-0.04,-0.047,-0.015,-0.008,-0.02,-0.01,-0.025,-0.015,-0.02,
-0.025,-0.03,-0.02,-0.04,-0.03,-0.05,-0.04,-0.06,-0.05,-0.07,
-0.06,-0.08,-0.07,-0.09,-0.08,-0.1,-0.085,-0.105,-0.09,-0.11,
-0.095,-0.12,-0.045,-0.03,-0.06,-0.025,-0.055,-0.035,-0.06,-0.03,
-0.05,-0.02,-0.045,-0.015,-0.035,-0.005,-0.025,0.005,-0.01,0.015,
0.015,0.035,0.01,0.04,0.02,0.045,0.025,0.04,0.015,0.035,
0.03,0.015,0.04,0.02,0.045,0.025,0.07,0.03,0.11,0.06,
0.13,0.07,0.15,0.09,0.04,0.13,0.07,0.16,0.1,0.14,
0.13,0.09,0.11,0.05,0.04,0.01,0.04,0.005,0.035,0.015,
0.035,0.005,0.04,0.01,0.03,0.0,0.035,0.01,0.04,0.015,
0.1,0.13,0.05,0.17,0.02,0.12,0.16,0.06,0.1,0.05,
0.045,0.02,0.035,0.01,0.03,0.015,0.025,0.005,0.025,0.01,
0.02,0.008,0.015,0.01,0.02,0.005,0.012,0.008,0.015,0.005,
0.012,0.004,0.01,0.0];

// zero-valued (flagged) channels and the near-zero low-frequency run
const zeroBandFreq = [100, 114, 118, 122, 125.5, 147, 180.5, 200];
const zeroBandDev  = [0, 0, 0.001, -0.002, -0.004, null, 0, 0];

// isolated outliers [frequency, deviation]
const spikeRed = [[129.4,0.57],[129.4,0.12],[129.4,-0.22],[129.4,-0.25],[150.0,0.25],[153.4,-0.26],[153.4,-0.31],[154.8,0.35],[154.8,-0.27],[156.3,0.24],[166.4,0.66],[166.4,0.33],[166.4,-0.25],[166.4,-0.29],[167.5,0.27],[168.6,0.41],[168.6,0.25]];
const spikeMagenta = [[129.4,0.535],[129.4,0.16],[129.4,0.14],[129.4,-0.27],[150.0,0.22],[153.3,0.30],[153.3,0.29],[153.4,-0.28],[153.4,-0.33],[154.8,-0.25],[168.6,-0.325],[168.6,-0.34]];
const spikeBlack = [[129.4,0.375],[129.4,-0.19],[129.4,-0.21],[153.3,0.245],[153.5,-0.365],[153.5,-0.375],[156.3,0.19],[166.4,-0.3],[168.6,0.27],[168.6,-0.28],[168.6,-0.31]];
const spikeBlue = [[129.4,0.28],[129.4,-0.24],[153.3,-0.2],[154.8,0.32],[154.8,-0.23],[156.3,0.23],[166.4,0.548],[166.4,0.515],[168.6,-0.3]];
const spikeYellow = [[129.4,0.205],[129.4,-0.28],[150.0,0.19],[153.3,0.25],[166.4,0.315],[167.5,0.29]];
const spikeCyan = [[129.4,0.1],[153.3,0.335],[153.4,-0.35],[154.8,0.305],[166.4,1.025],[175.5,-0.125],[177.3,-0.105]];
const spikeGreen = [[129.4,-0.26],[150.0,-0.21],[156.3,0.255],[166.4,-0.26],[168.6,-0.29]];

const COL = {b:'#0000ff', g:'#008000', r:'#ff0000', c:'#00bfbf', m:'#bf00bf', y:'#bfbf00', k:'#000000'};

function series(xs, ys, color) {
  const n = Math.min(xs.length, ys.length);
  const pts = [];
  for (let i = 0; i < n; i++) pts.push({x: xs[i], y: ys[i]});
  return {data: pts, showLine: false, pointStyle: 'crossRot', pointRadius: 7, pointHoverRadius: 7,
          borderWidth: 1.1, pointBorderWidth: 1.1, borderColor: color, backgroundColor: color};
}
function spikes(list, color) {
  return series(list.map(p => p[0]), list.map(p => p[1]), color);
}

const ordered = [
  series(freq, blue1, COL.b), series(freq, green1, COL.g), series(freq, red1, COL.r),
  series(freq, cyan1, COL.c), series(freq, yellow1, COL.y), series(freq, black1, COL.k),
  series(freq, blue2, COL.b), series(freq, green2, COL.g), series(freq, red2, COL.r),
  series(freq, cyan2, COL.c), series(freq, yellow2, COL.y), series(freq, black2, COL.k),
  series(freq, blue3, COL.b), series(freq, green3, COL.g), series(freq, red3, COL.r),
  series(freq, cyan3, COL.c), series(freq, yellow3, COL.y), series(freq, black3, COL.k),
  series(freq, blue4, COL.b), series(freq, green4, COL.g), series(freq, cyan4, COL.c),
  series(freq, yellow4, COL.y), series(freq, black4, COL.k), series(freq, red4, COL.r),
  series(freq, magenta1, COL.m), series(freq, magenta2, COL.m), series(freq, magenta3, COL.m),
  series(freq, magenta4, COL.m),
  spikes(spikeBlue, COL.b), spikes(spikeGreen, COL.g), spikes(spikeRed, COL.r),
  spikes(spikeCyan, COL.c), spikes(spikeMagenta, COL.m), spikes(spikeYellow, COL.y), spikes(spikeBlack, COL.k),
  {data: zeroBandFreq.map((x, i) => ({x, y: zeroBandDev[i]})), showLine: true, spanGaps: false,
   pointRadius: 0, borderWidth: 10, borderColor: COL.m, backgroundColor: COL.m, borderCapStyle: 'butt'}
];
ordered.forEach((d, i) => { d.order = ordered.length - i; });

const frame = {
  id: 'frame',
  afterDraw(chart) {
    const {ctx, chartArea: a, scales: {x, y}} = chart;
    ctx.save();
    ctx.strokeStyle = '#000';
    ctx.lineWidth = 1;
    ctx.beginPath();
    xTicks.forEach(v => {
      const p = Math.round(x.getPixelForValue(v)) + 0.5;
      ctx.moveTo(p, a.bottom); ctx.lineTo(p, a.bottom - 6);
      ctx.moveTo(p, a.top); ctx.lineTo(p, a.top + 6);
    });
    yTicks.forEach(v => {
      const p = Math.round(y.getPixelForValue(v)) + 0.5;
      ctx.moveTo(a.left, p); ctx.lineTo(a.left + 6, p);
      ctx.moveTo(a.right, p); ctx.lineTo(a.right - 6, p);
    });
    ctx.stroke();
    ctx.lineWidth = 1.3;
    ctx.strokeRect(a.left, a.top, a.right - a.left, a.bottom - a.top);
    ctx.restore();
  }
};

Chart.defaults.font.family = "'DejaVu Sans'";
Chart.defaults.color = '#000';

new Chart(document.getElementById('c'), {
  type: 'scatter',
  data: {datasets: ordered},
  options: {
    responsive: false, animation: false, devicePixelRatio: 1,
    layout: {padding: {left: 0, right: 26, top: 0, bottom: 0}},
    plugins: {
      legend: {display: false}, tooltip: {enabled: false},
      title: {display: true, fullSize: false, text: 'Triad Seat Racing: Deviation from Mean Std. Dev',
              color: '#000', font: {size: 23.5, weight: 'normal'}, padding: {top: 6, bottom: 1.8}}
    },
    scales: {
      x: {
        type: 'linear', min: 100, max: 200,
        afterBuildTicks: s => { s.ticks = xTicks.map(v => ({value: v})); },
        afterFit: s => { s.height = 52; },
        ticks: {font: {size: 18}, color: '#000', padding: 4, maxRotation: 0, autoSkip: false,
                callback: v => String(v)},
        grid: {display: false, drawTicks: false}, border: {display: false},
        title: {display: true, text: 'Frequency(MHz)', color: '#000', font: {size: 20}, padding: {top: 0, bottom: 1}}
      },
      y: {
        type: 'linear', min: -0.4, max: 1.2,
        afterBuildTicks: s => { s.ticks = yTicks.map(v => ({value: v})); },
        afterFit: s => { s.width = 89; },
        ticks: {font: {size: 18}, color: '#000', padding: 5, autoSkip: false,
                callback: v => v.toFixed(1).replace('-', '\u2212')},
        grid: {display: false, drawTicks: false}, border: {display: false},
        title: {display: true, text: 'Deviation from Mean', color: '#000', font: {size: 20}, padding: {top: 11, bottom: 0}}
      }
    }
  },
  plugins: [frame]
});
</script>
</body></html>
